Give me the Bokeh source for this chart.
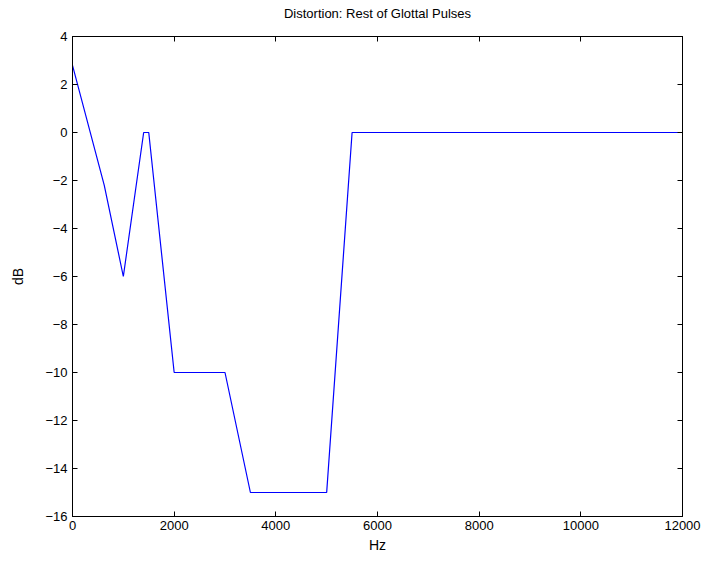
from bokeh.plotting import figure
from bokeh.models import LinearAxis, FixedTicker, Range1d, CustomLabelingPolicy
from bokeh.embed import file_html
from bokeh.resources import INLINE

# Data
freq_hz = [0, 625, 1000, 1400, 1500, 2000, 3000, 3500, 5000, 5500, 12000]
gain_db = [2.8, -2.2, -6, 0, 0, -10, -10, -15, -15, 0, 0]
x_ticks = [0, 2000, 4000, 6000, 8000, 10000, 12000]
y_ticks = [-16, -14, -12, -10, -8, -6, -4, -2, 0, 2, 4]

FONT = "Liberation Sans"

p = figure(width=707, height=566, x_range=Range1d(0, 12000), y_range=Range1d(-16, 4),
           output_backend="svg", toolbar_location=None,
           title="Distortion: Rest of Glottal Pulses",
           x_axis_label="Hz", y_axis_label="dB",
           min_border_left=72, min_border_right=25, min_border_top=30, min_border_bottom=50)

p.background_fill_color = "white"
p.border_fill_color = "white"
p.outline_line_color = "black"
p.xgrid.visible = False
p.ygrid.visible = False

p.title.align = "center"
p.title.text_font = FONT
p.title.text_font_size = "13px"
p.title.text_font_style = "normal"
p.title.text_color = "black"
p.title.standoff = 7

p.line(freq_hz, gain_db, line_color="#0000ff", line_width=1.2)

def hide_labels():
    return CustomLabelingPolicy(code="""
    for (const i of Array.from(indices)) indices.unset(i)
    return indices
""")

def style_axis(ax, ticks, labels=True):
    ax.ticker = FixedTicker(ticks=ticks)
    ax.major_tick_in = 5
    ax.major_tick_out = 0
    ax.minor_tick_in = 0
    ax.minor_tick_out = 0
    ax.axis_line_color = "black"
    ax.major_tick_line_color = "black"
    ax.major_label_text_font = FONT
    ax.major_label_text_font_size = "13px"
    ax.major_label_text_color = "black"
    ax.axis_label_text_font = FONT
    ax.axis_label_text_font_size = "14px"
    ax.axis_label_text_font_style = "normal"
    ax.axis_label_text_color = "black"
    if not labels:
        ax.major_label_policy = hide_labels()
        ax.major_label_standoff = 0
        ax.axis_label = None

style_axis(p.xaxis[0], x_ticks)
style_axis(p.yaxis[0], y_ticks)
p.xaxis[0].major_label_standoff = 4
p.xaxis[0].axis_label_standoff = 4
p.yaxis[0].major_label_standoff = 5
p.yaxis[0].axis_label_standoff = 16

top_ax = LinearAxis()
style_axis(top_ax, x_ticks, labels=False)
right_ax = LinearAxis()
style_axis(right_ax, y_ticks, labels=False)
p.add_layout(top_ax, "above")
p.add_layout(right_ax, "right")

open("out.html", "w").write(file_html(p, INLINE))
